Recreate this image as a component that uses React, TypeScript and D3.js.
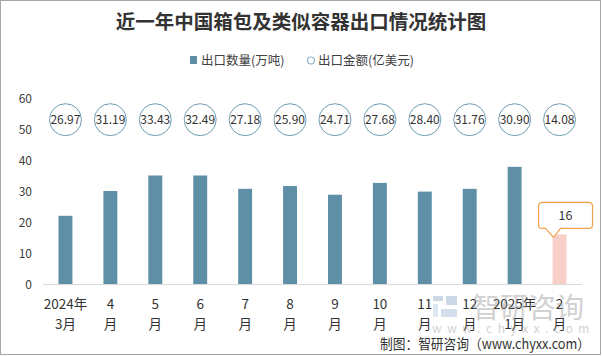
import React from "react";
import * as d3 from "d3";

const categories = ["2024年\n3月", "4\n月", "5\n月", "6\n月", "7\n月", "8\n月", "9\n月", "10\n月", "11\n月", "12\n月", "2025年\n1月", "2\n月"];
const volume = [22, 30, 35, 35, 30.7, 31.6, 28.8, 32.6, 29.8, 30.7, 37.8, 16];
const amount = ["26.97", "31.19", "33.43", "32.49", "27.18", "25.90", "24.71", "27.68", "28.40", "31.76", "30.90", "14.08"];
const yTicks = [0, 10, 20, 30, 40, 50, 60];
const bubbleLevel = 53;

const W = 602, H = 356;
const FONT = "'Noto Sans CJK SC', 'Noto Sans', sans-serif";

export default function App() {
  const x = d3.scaleBand<number>().domain(d3.range(categories.length)).range([43, 582]).paddingInner(0.69).paddingOuter(0.345);
  const y = d3.scaleLinear().domain([0, 60]).range([284, 98]);
  const bw = x.bandwidth();
  const cx = (i: number) => (x(i) as number) + bw / 2;
  const last = categories.length - 1;
  const lastTop = y(volume[last]);
  const lx = cx(last);
  const bx0 = lx - 21, bx1 = lx + 33, by0 = lastTop - 32, by1 = lastTop - 6;

  return (
    <svg width={W} height={H} style={{ position: "fixed", left: 0, top: 0, background: "#fff" }} fontFamily={FONT}>
      <rect x={0.5} y={0.5} width={600} height={354} fill="#fff" stroke="#a6a6a6" />
      <text x={301} y={29} textAnchor="middle" fontSize={19.5} fontWeight="bold" fill="#333">近一年中国箱包及类似容器出口情况统计图</text>

      {/* legend */}
      <rect x={190} y={56} width={7} height={8} fill="#5e8fa6" />
      <text x={201} y={65} fontSize={12.5} fill="#404040">出口数量(万吨)</text>
      <circle cx={311} cy={60.5} r={3.5} fill="#fff" stroke="#8fb2c4" strokeWidth={1.2} />
      <text x={318} y={65} fontSize={12.5} fill="#404040">出口金额(亿美元)</text>

      {/* y axis labels */}
      {yTicks.map(t => (
        <text key={t} x={32} y={y(t) + 4.5} textAnchor="end" fontSize={12} fill="#404040">{t}</text>
      ))}
      <line x1={43} x2={582} y1={284.5} y2={284.5} stroke="#d9d9d9" />

      {/* bars */}
      {volume.map((v, i) => (
        <rect key={i} x={x(i)} y={y(v)} width={bw} height={y(0) - y(v)} fill={i === last ? "#f8d0c8" : "#5e8fa6"} />
      ))}

      {/* bubbles */}
      {amount.map((a, i) => (
        <g key={i}>
          <circle cx={cx(i)} cy={y(bubbleLevel)} r={16} fill="#fff" stroke="#6f9db4" strokeWidth={1} />
          <text x={cx(i)} y={y(bubbleLevel) + 4.5} textAnchor="middle" fontSize={12} fill="#333">{a}</text>
        </g>
      ))}

      {/* x labels */}
      {categories.map((c, i) => {
        const [l1, l2] = c.split("\n");
        return (
          <g key={i}>
            <text x={cx(i)} y={309} textAnchor="middle" fontSize={13.5} fill="#333">{l1}</text>
            <text x={cx(i)} y={329} textAnchor="middle" fontSize={13.5} fill="#333">{l2}</text>
          </g>
        );
      })}

      {/* callout */}
      <path
        d={`M${bx0 + 4},${by0} H${bx1 - 4} Q${bx1},${by0} ${bx1},${by0 + 4} V${by1 - 4} Q${bx1},${by1} ${bx1 - 4},${by1} H${lx + 1} L${lx - 6},${lastTop + 3} L${lx - 14},${by1} H${bx0 + 4} Q${bx0},${by1} ${bx0},${by1 - 4} V${by0 + 4} Q${bx0},${by0} ${bx0 + 4},${by0} Z`}
        fill="#fff" stroke="#f0a04b" strokeWidth={1.2}
      />
      <text x={(bx0 + bx1) / 2} y={(by0 + by1) / 2 + 4.5} textAnchor="middle" fontSize={12.5} fill="#333">16</text>

      {/* watermark */}
      <g opacity={0.45}>
        <rect x={433} y={296} width={10} height={5} fill="#8fa9c8" />
        <rect x={433} y={304} width={5} height={13} fill="#b9cde0" />
        <rect x={446} y={296} width={11} height={9} fill="#8fa9c8" />
        <rect x={441} y={309} width={16} height={8} fill="#9fbad6" />
        <text x={472} y={318} fontSize={28} fill="#9a9a9a">智研咨询</text>
        <text x={432} y={333} fontSize={12} fill="#9a9a9a" letterSpacing={5.6}>www.chyxx.com</text>
      </g>

      <text x={380} y={349} fontSize={14} fill="#333" textLength={210} lengthAdjust="spacingAndGlyphs">制图：智研咨询（www.chyxx.com）</text>
    </svg>
  );
}
